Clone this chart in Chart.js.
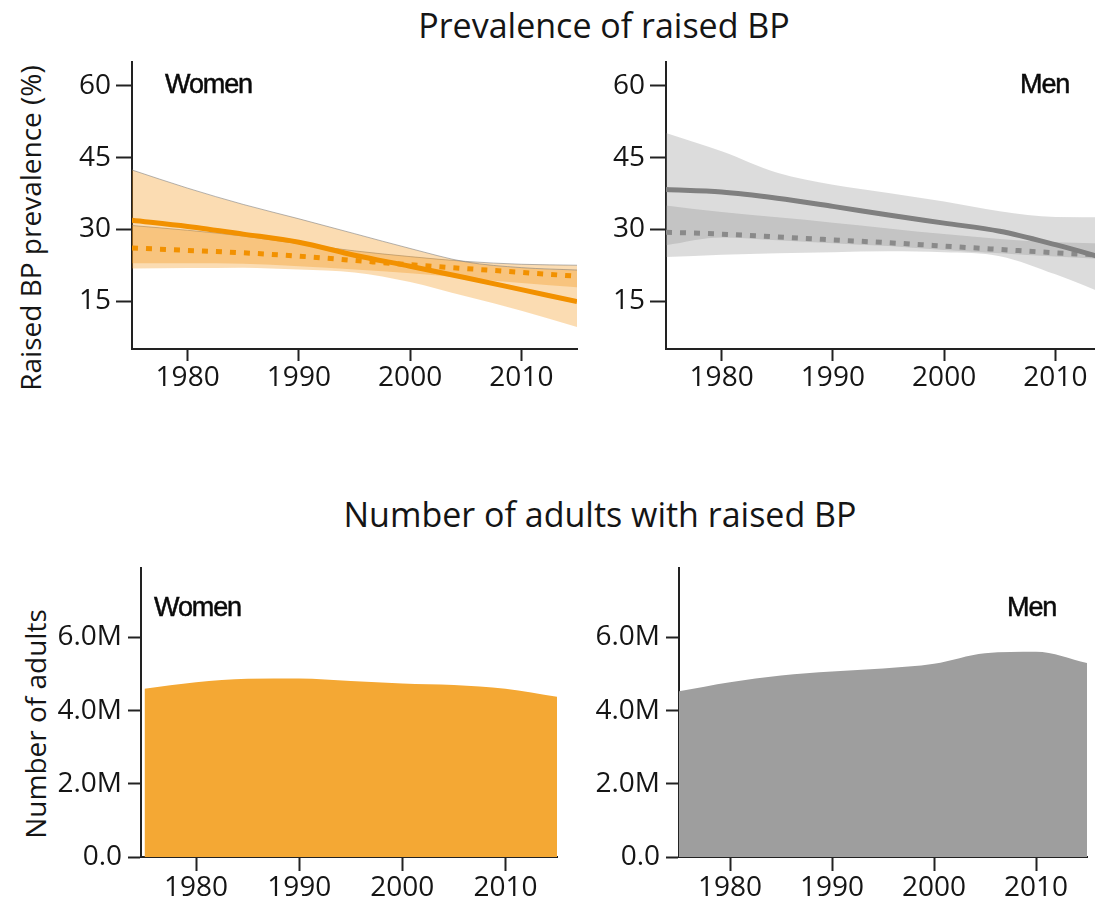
<!DOCTYPE html>
<html><head><meta charset="utf-8">
<script src="https://cdn.jsdelivr.net/npm/chart.js@4.4.1/dist/chart.umd.min.js"></script>
<style>
html,body{margin:0;padding:0;width:1095px;height:901px;overflow:hidden;background:#fff;}
canvas{position:absolute;}
.title{position:absolute;font-family:'Open Sans';font-size:34px;line-height:34px;color:#151515;white-space:nowrap;transform:translateX(-50%);}
.panel{position:absolute;font-family:'Liberation Sans';font-size:27px;line-height:27px;letter-spacing:-1.1px;color:#0a0a0a;-webkit-text-stroke:0.5px #0a0a0a;white-space:nowrap;}
.ytitle{position:absolute;font-family:'Open Sans';font-size:28px;line-height:28px;color:#151515;white-space:nowrap;transform:translate(-50%,-50%) rotate(-90deg);}
</style></head><body>
<div class="title" style="left:604px;top:8px;">Prevalence of raised BP</div>
<div class="title" style="left:600px;top:497px;">Number of adults with raised BP</div>
<div class="ytitle" style="left:30px;top:228px;">Raised BP prevalence (%)</div>
<div class="ytitle" style="left:35px;top:724px;">Number of adults</div>

<canvas id="cA" width="600" height="380" style="left:0px;top:40px;"></canvas>
<canvas id="cB" width="600" height="380" style="left:534px;top:40px;"></canvas>
<canvas id="cC" width="600" height="361" style="left:0px;top:540px;"></canvas>
<canvas id="cD" width="555" height="361" style="left:540px;top:540px;"></canvas>

<div class="panel" style="left:165px;top:71px;">Women</div>
<div class="panel" style="left:1020px;top:71px;">Men</div>
<div class="panel" style="left:154px;top:594px;">Women</div>
<div class="panel" style="left:1007px;top:594px;">Men</div>

<script>
// ---- data ----
const years = [1975, 1980, 1985, 1990, 1995, 2000, 2005, 2010, 2015];
const yearTicks = [1980, 1990, 2000, 2010];
const prevalenceTicks = [15, 30, 45, 60];
const adultTicks = [0, 2000000, 4000000, 6000000];

const womenSolid      = [31.9, 30.6, 29.0, 27.3, 24.6, 22.3, 19.9, 17.4, 14.9];
const womenSolidUpper = [42.4, 38.6, 35.2, 32.2, 29.1, 26.0, 23.2, 22.0, 21.5];
const womenSolidLower = [21.8, 21.9, 22.0, 21.6, 21.0, 19.0, 16.0, 13.0, 9.6];
const womenDotted      = [26.1, 25.6, 25.1, 24.4, 23.5, 22.6, 21.8, 21.0, 20.2];
const womenDottedUpper = [30.8, 29.8, 28.6, 27.0, 25.5, 24.3, 23.3, 22.7, 22.5];
const womenDottedLower = [22.9, 22.9, 22.8, 22.3, 21.6, 20.8, 19.8, 18.8, 17.9];

const menSolid      = [38.3, 37.8, 36.5, 34.8, 33.0, 31.3, 29.6, 26.8, 23.6];
const menSolidUpper = [50.1, 46.3, 41.8, 39.3, 37.6, 35.8, 33.8, 32.6, 32.5];
const menSolidLower = [24.2, 24.7, 25.0, 25.2, 25.4, 25.2, 24.4, 20.6, 16.0];
const menDotted      = [29.4, 29.0, 28.4, 27.8, 27.2, 26.5, 25.8, 25.1, 24.5];
const menDottedUpper = [35.0, 33.6, 32.5, 31.4, 30.2, 29.0, 28.0, 27.3, 27.0];
const menDottedLower = [26.7, 28.3, 27.7, 27.1, 26.5, 25.7, 25.0, 24.3, 23.7];

const womenAdults = [4600000, 4780000, 4870000, 4880000, 4810000, 4740000, 4700000, 4600000, 4380000];
const menAdults   = [4530000, 4780000, 4960000, 5070000, 5150000, 5280000, 5570000, 5610000, 5300000];

// ---- helpers ----
Chart.defaults.font.family = 'Open Sans';
const INK = '#151515';
const AX = '#222';
function pts(arr){ return years.map((y,i)=>({x:y, y:arr[i]})); }

function lineDs(arr, color, dashed){
  return {data: pts(arr), borderColor: color, borderWidth: 5, fill: false,
          borderDash: dashed ? [6, 8] : [], borderCapStyle: 'butt', pointRadius: 0};
}
function bandDs(upper, lower, color, edge){
  return [
    {data: pts(lower), borderWidth: 0, borderColor: 'rgba(0,0,0,0)', fill: false, pointRadius: 0},
    {data: pts(upper), borderWidth: edge ? 1 : 0, borderColor: edge || 'rgba(0,0,0,0)',
     backgroundColor: color, fill: '-1', pointRadius: 0}
  ];
}

function makeChart(id, datasets, c){
  return new Chart(document.getElementById(id), {
    type: 'line',
    data: {datasets},
    options: {
      responsive: false, animation: false, devicePixelRatio: 1,
      layout: {padding: c.padding},
      plugins: {legend: {display: false}, tooltip: {enabled: false}},
      elements: {point: {radius: 0}, line: {cubicInterpolationMode: 'monotone'}},
      scales: {
        x: {
          type: 'linear', min: c.xmin, max: c.xmax,
          afterBuildTicks: s => { s.ticks = yearTicks.map(v => ({value: v})); },
          afterFit: s => { s.height = c.xh; },
          ticks: {callback: v => String(v), font: {size: 28}, color: INK, padding: c.xpad, maxRotation: 0, autoSkip: false},
          grid: {drawOnChartArea: false, drawTicks: true, tickLength: c.xtl, tickWidth: 2, tickColor: AX},
          border: {display: true, color: AX, width: 2}
        },
        y: {
          type: 'linear', min: c.ymin, max: c.ymax,
          afterBuildTicks: s => { s.ticks = c.yticks.map(v => ({value: v})); },
          afterFit: s => { s.width = c.yw; },
          ticks: {callback: c.yfmt, font: {size: 28}, color: INK, padding: c.ypad, autoSkip: false},
          grid: {drawOnChartArea: false, drawTicks: true, tickLength: c.ytl, tickWidth: 2, tickColor: AX},
          border: {display: true, color: AX, width: 2}
        }
      }
    }
  });
}

const ORANGE = '#F29100';
const ORANGE_BAND = 'rgba(243,150,20,0.33)';
const GRAY = '#808080';
const GRAY_DOT = '#8a8a8a';
const GRAY_BAND = 'rgba(140,140,140,0.30)';
const EDGE = 'rgba(120,120,120,0.55)';

const topCfg = {padding: {left: 0, top: 21, right: 23, bottom: 0}, xmin: 1975, xmax: 2015,
  ymin: 5, ymax: 65, yticks: prevalenceTicks, yfmt: v => String(v),
  xh: 71, yw: 132, xtl: 12, xpad: 0, ytl: 16, ypad: 5};

makeChart('cA', [
  lineDs(womenSolid, ORANGE, false),
  lineDs(womenDotted, ORANGE, true),
  ...bandDs(womenSolidUpper, womenSolidLower, ORANGE_BAND, EDGE),
  ...bandDs(womenDottedUpper, womenDottedLower, ORANGE_BAND, EDGE)
], topCfg);

makeChart('cB', [
  lineDs(menSolid, GRAY, false),
  lineDs(menDotted, GRAY_DOT, true),
  ...bandDs(menSolidUpper, menSolidLower, GRAY_BAND, null),
  ...bandDs(menDottedUpper, menDottedLower, GRAY_BAND, null)
], topCfg);

const fmtM = v => v === 0 ? '0.0' : (v / 1000000).toFixed(1) + 'M';

function areaDs(arr, color){
  return {data: pts(arr), borderWidth: 0, borderColor: color, backgroundColor: color, fill: 'origin', pointRadius: 0};
}

makeChart('cC', [areaDs(womenAdults, 'rgb(244,168,52)')],
  {padding: {left: 0, top: 28, right: 43, bottom: 0}, xmin: 1974.66, xmax: 2015,
   ymin: 0, ymax: 7900000, yticks: adultTicks, yfmt: fmtM,
   xh: 44, yw: 141, xtl: 14, xpad: 0, ytl: 13, ypad: 6});

makeChart('cD', [areaDs(menAdults, 'rgb(158,158,158)')],
  {padding: {left: 0, top: 28, right: 8, bottom: 0}, xmin: 1975, xmax: 2015,
   ymin: 0, ymax: 7900000, yticks: adultTicks, yfmt: fmtM,
   xh: 44, yw: 139, xtl: 14, xpad: 0, ytl: 13, ypad: 6});
</script>
</body></html>
